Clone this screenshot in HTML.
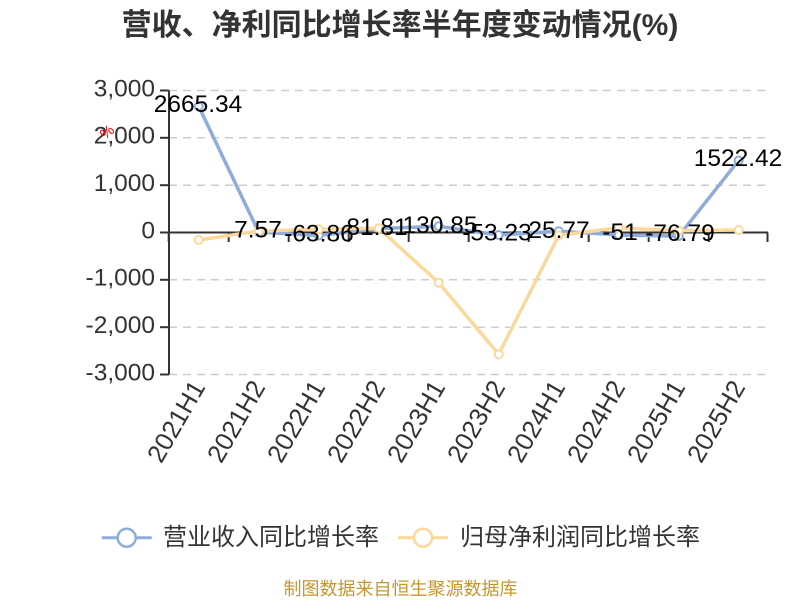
<!DOCTYPE html>
<html>
<head>
<meta charset="utf-8">
<style>
  html, body { margin: 0; padding: 0; background: #ffffff; }
  svg { display: block; }
  text { font-family: "Liberation Sans", "Noto Sans CJK SC", sans-serif; }
</style>
</head>
<body>
<svg width="800" height="600" viewBox="0 0 800 600" xmlns="http://www.w3.org/2000/svg">
  <rect x="0" y="0" width="800" height="600" fill="#ffffff"/>

  <!-- Title -->
  <text x="400" y="35" text-anchor="middle" font-size="30" font-weight="bold" fill="#333333">营收、净利同比增长率半年度变动情况(%)</text>

  <!-- Grid lines -->
  <g stroke="#cccccc" stroke-width="1.5" stroke-dasharray="8,6" fill="none">
    <line x1="169" y1="90.5" x2="768" y2="90.5"/>
    <line x1="169" y1="137.8" x2="768" y2="137.8"/>
    <line x1="169" y1="185.2" x2="768" y2="185.2"/>
    <line x1="169" y1="279.8" x2="768" y2="279.8"/>
    <line x1="169" y1="327.2" x2="768" y2="327.2"/>
    <line x1="169" y1="374.5" x2="768" y2="374.5"/>
  </g>

  <!-- Y axis -->
  <g stroke="#333333" stroke-width="2" fill="none">
    <line x1="169" y1="90.5" x2="169" y2="374.5"/>
    <line x1="160" y1="90.5" x2="169" y2="90.5"/>
    <line x1="160" y1="137.8" x2="169" y2="137.8"/>
    <line x1="160" y1="185.2" x2="169" y2="185.2"/>
    <line x1="160" y1="232.5" x2="169" y2="232.5"/>
    <line x1="160" y1="279.8" x2="169" y2="279.8"/>
    <line x1="160" y1="327.2" x2="169" y2="327.2"/>
    <line x1="160" y1="374.5" x2="169" y2="374.5"/>
  </g>
  <g font-size="24.5" fill="#333333" text-anchor="end">
    <text x="155" y="96.5">3,000</text>
    <text x="155" y="143.5">2,000</text>
    <text x="155" y="191">1,000</text>
    <text x="155" y="238.5">0</text>
    <text x="155" y="285.5">-1,000</text>
    <text x="155" y="333">-2,000</text>
    <text x="155" y="380.5">-3,000</text>
  </g>
  <text x="107" y="137" font-size="15" fill="#ff0000" text-anchor="middle" transform="rotate(-40 107 132)">%</text>

  <!-- X axis -->
  <g stroke="#333333" stroke-width="2" fill="none">
    <line x1="169" y1="232.5" x2="768" y2="232.5"/>
    <line x1="168.7" y1="232.5" x2="168.7" y2="242"/>
    <line x1="228.7" y1="232.5" x2="228.7" y2="242"/>
    <line x1="288.7" y1="232.5" x2="288.7" y2="242"/>
    <line x1="348.7" y1="232.5" x2="348.7" y2="242"/>
    <line x1="408.7" y1="232.5" x2="408.7" y2="242"/>
    <line x1="468.7" y1="232.5" x2="468.7" y2="242"/>
    <line x1="528.7" y1="232.5" x2="528.7" y2="242"/>
    <line x1="588.7" y1="232.5" x2="588.7" y2="242"/>
    <line x1="648.7" y1="232.5" x2="648.7" y2="242"/>
    <line x1="708.7" y1="232.5" x2="708.7" y2="242"/>
    <line x1="767.5" y1="232.5" x2="767.5" y2="242"/>
  </g>
  <g font-size="25.5" fill="#333333" text-anchor="end" dominant-baseline="central">
    <text transform="translate(199,383) rotate(-60)">2021H1</text>
    <text transform="translate(259,383) rotate(-60)">2021H2</text>
    <text transform="translate(319,383) rotate(-60)">2022H1</text>
    <text transform="translate(379,383) rotate(-60)">2022H2</text>
    <text transform="translate(439,383) rotate(-60)">2023H1</text>
    <text transform="translate(499,383) rotate(-60)">2023H2</text>
    <text transform="translate(559,383) rotate(-60)">2024H1</text>
    <text transform="translate(619,383) rotate(-60)">2024H2</text>
    <text transform="translate(679,383) rotate(-60)">2025H1</text>
    <text transform="translate(739,383) rotate(-60)">2025H2</text>
  </g>

  <!-- Blue series: revenue growth -->
  <polyline fill="none" stroke="#8eacdc" stroke-width="3.5" stroke-linejoin="round"
    points="198.7,106.35 258.7,232.14 318.7,235.52 378.7,228.63 438.7,226.31 498.7,235.02 558.7,231.28 618.7,234.91 678.7,236.13 738.7,160.44"/>
  <g fill="#ffffff" stroke="#8eacdc" stroke-width="2">
    <circle cx="198.7" cy="106.35" r="4"/>
    <circle cx="258.7" cy="232.14" r="4"/>
    <circle cx="318.7" cy="235.52" r="4"/>
    <circle cx="378.7" cy="228.63" r="4"/>
    <circle cx="438.7" cy="226.31" r="4"/>
    <circle cx="498.7" cy="235.02" r="4"/>
    <circle cx="558.7" cy="231.28" r="4"/>
    <circle cx="618.7" cy="234.91" r="4"/>
    <circle cx="678.7" cy="236.13" r="4"/>
    <circle cx="738.7" cy="160.44" r="4"/>
  </g>

  <!-- Orange series: net profit growth -->
  <polyline fill="none" stroke="#fdd89b" stroke-width="3.5" stroke-linejoin="round"
    points="198.7,239.98 258.7,231.08 318.7,229.28 378.7,228.24 438.7,282.72 498.7,354.33 558.7,235.34 618.7,227.77 678.7,230.7 738.7,230.0"/>
  <g fill="#ffffff" stroke="#fdd89b" stroke-width="2">
    <circle cx="198.7" cy="239.98" r="4"/>
    <circle cx="258.7" cy="231.08" r="4"/>
    <circle cx="318.7" cy="229.28" r="4"/>
    <circle cx="378.7" cy="228.24" r="4"/>
    <circle cx="438.7" cy="282.72" r="4"/>
    <circle cx="498.7" cy="354.33" r="4"/>
    <circle cx="558.7" cy="235.34" r="4"/>
    <circle cx="618.7" cy="227.77" r="4"/>
    <circle cx="678.7" cy="230.7" r="4"/>
    <circle cx="738.7" cy="230.0" r="4"/>
  </g>

  <!-- Data labels -->
  <g font-size="24.5" fill="#000000" text-anchor="middle">
    <text x="198" y="112">2665.34</text>
    <text x="258" y="237.5">7.57</text>
    <text x="319" y="241.5">-63.86</text>
    <text x="377" y="235">81.81</text>
    <text x="440" y="233">130.85</text>
    <text x="497" y="240.5">-53.23</text>
    <text x="559" y="238">25.77</text>
    <text x="620" y="240">-51</text>
    <text x="680" y="241">-76.79</text>
    <text x="738" y="166">1522.42</text>
  </g>

  <!-- Legend -->
  <line x1="101.7" y1="537.7" x2="151.7" y2="537.7" stroke="#8eacdc" stroke-width="3"/>
  <circle cx="126.7" cy="537.7" r="9" fill="#ffffff" stroke="#8eacdc" stroke-width="2.5"/>
  <text x="163" y="545" font-size="24" fill="#333333">营业收入同比增长率</text>

  <line x1="398" y1="537.7" x2="448" y2="537.7" stroke="#fdd89b" stroke-width="3"/>
  <circle cx="423" cy="537.7" r="9" fill="#ffffff" stroke="#fdd89b" stroke-width="2.5"/>
  <text x="460" y="545" font-size="24" fill="#333333">归母净利润同比增长率</text>

  <!-- Footer -->
  <text x="400.5" y="595" text-anchor="middle" font-size="18" fill="#c8962e">制图数据来自恒生聚源数据库</text>
</svg>
</body>
</html>
